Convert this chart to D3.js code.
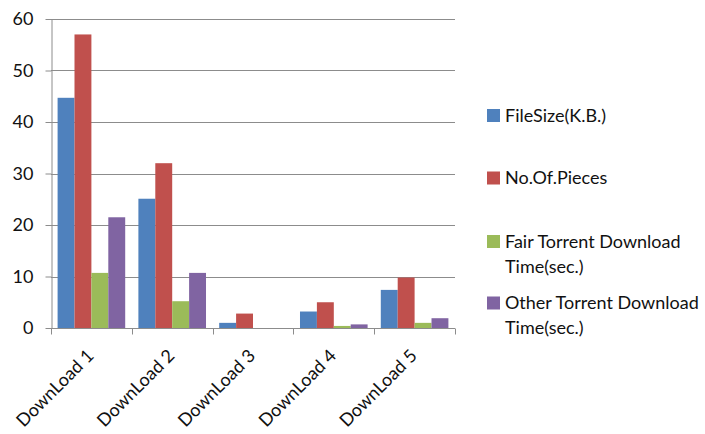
<!DOCTYPE html>
<html>
<head>
<meta charset="utf-8">
<script src="https://cdn.jsdelivr.net/npm/d3@7"></script>
<style>
  html, body { margin: 0; padding: 0; background: #fff; }
  svg { display: block; font-family: Lato, "Open Sans", sans-serif; }
</style>
</head>
<body>
<svg id="chart" width="705" height="434"></svg>
<script>
// Download statistics per torrent file
const categories = ["DownLoad 1", "DownLoad 2", "DownLoad 3", "DownLoad 4", "DownLoad 5"];
const seriesNames = ["FileSize(K.B.)", "No.Of.Pieces", "Fair Torrent Download Time(sec.)", "Other Torrent Download Time(sec.)"];
const fileSize = [44.7, 25.1, 1.0, 3.2, 7.4];
const pieces = [57, 32, 2.8, 5, 9.8];
const fairTime = [10.7, 5.2, 0, 0.4, 1.0];
const otherTime = [21.5, 10.7, 0, 0.7, 1.9];
const yTicks = [0, 10, 20, 30, 40, 50, 60];
const legendLines = [["FileSize(K.B.)"], ["No.Of.Pieces"], ["Fair Torrent Download", "Time(sec.)"], ["Other Torrent Download", "Time(sec.)"]];

const seriesValues = [fileSize, pieces, fairTime, otherTime];
const colors = ["#4F81BD", "#C0504D", "#9BBB59", "#8064A2"];
const textColor = "#111";
const fontSize = 18;

const svg = d3.select("#chart");
const plotLeft = 51, plotRight = 455, plotTop = 19, plotBottom = 328;

const x = d3.scaleBand().domain(categories).range([plotLeft, plotRight]).paddingInner(0).paddingOuter(0);
const xs = d3.scaleBand().domain(d3.range(seriesNames.length)).range([0, x.bandwidth()]).paddingInner(0).paddingOuter(0.39);
const y = d3.scaleLinear().domain([0, 60]).range([plotBottom, plotTop]);

// horizontal gridlines
svg.append("g").selectAll("line").data(yTicks.filter(d => d > 0)).join("line")
  .attr("x1", plotLeft).attr("x2", plotRight)
  .attr("y1", d => Math.round(y(d)) + 0.5).attr("y2", d => Math.round(y(d)) + 0.5)
  .attr("stroke", "#8c8c8c").attr("stroke-width", 1);

// bars
const groups = svg.append("g").selectAll("g").data(categories).join("g")
  .attr("transform", d => `translate(${x(d)},0)`);
groups.selectAll("rect").data((d, i) => seriesValues.map((s, k) => ({ k, v: s[i] }))).join("rect")
  .attr("x", d => xs(d.k))
  .attr("width", xs.bandwidth())
  .attr("y", d => y(d.v))
  .attr("height", d => plotBottom - y(d.v))
  .attr("fill", d => colors[d.k]);

// y axis
const yAxis = svg.append("g").attr("transform", `translate(${plotLeft + 0.5},0)`)
  .call(d3.axisLeft(y).tickValues(yTicks).tickSize(6).tickSizeOuter(0).tickPadding(12));
yAxis.select(".domain").attr("stroke", "#8c8c8c");
yAxis.selectAll(".tick line").attr("stroke", "#8c8c8c");
yAxis.selectAll(".tick text").attr("font-size", fontSize).attr("fill", textColor).attr("font-family", "Lato, sans-serif");

// x axis with boundary ticks between categories
const xg = svg.append("g").attr("transform", `translate(0,${plotBottom + 0.5})`);
xg.append("line").attr("x1", plotLeft).attr("x2", plotRight).attr("stroke", "#8c8c8c");
const bounds = categories.map(c => x(c)).concat([plotRight]);
xg.selectAll("line.tk").data(bounds).join("line").attr("class", "tk")
  .attr("x1", d => Math.round(d) + 0.5).attr("x2", d => Math.round(d) + 0.5)
  .attr("y1", 0).attr("y2", 6).attr("stroke", "#8c8c8c");
xg.selectAll("text").data(categories).join("text")
  .attr("transform", d => `translate(${x(d) + x.bandwidth() / 2 - 1},24) rotate(-45)`)
  .attr("text-anchor", "end")
  .attr("dy", "0.35em")
  .attr("font-size", fontSize).attr("fill", textColor)
  .text(d => d);

// legend
const legendY = [115.5, 178, 241.5, 303];
const lg = svg.append("g").selectAll("g").data(seriesNames).join("g")
  .attr("transform", (d, i) => `translate(487,${legendY[i]})`);
lg.append("rect").attr("x", 0).attr("y", -6.5).attr("width", 13).attr("height", 13)
  .attr("fill", (d, i) => colors[i]);
lg.each(function (d, i) {
  const t = d3.select(this).append("text").attr("x", 18).attr("font-size", fontSize).attr("fill", textColor);
  legendLines[i].forEach((line, j) => {
    t.append("tspan").attr("x", 18).attr("y", j * 25).attr("dy", "0.35em").text(line);
  });
});
</script>
</body>
</html>
